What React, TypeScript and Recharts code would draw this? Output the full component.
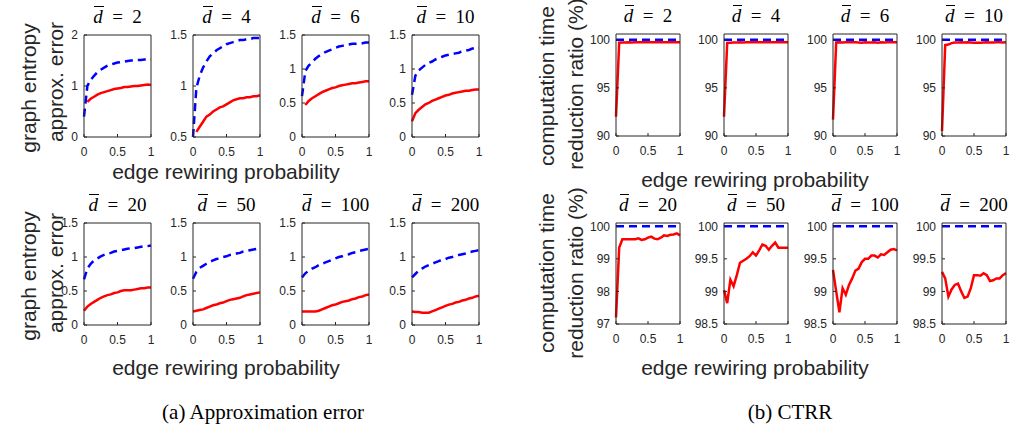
import React from "react";
import { LineChart, Line, XAxis, YAxis } from "recharts";

// edge rewiring probability (x values shared by every panel)
const rewiring = [0, 0.05, 0.1, 0.15, 0.2, 0.25, 0.3, 0.35, 0.4, 0.45, 0.5, 0.55, 0.6, 0.65, 0.7, 0.75, 0.8, 0.85, 0.9, 0.95, 1];
const xTicks = [0, 0.5, 1];

const degrees = [2, 4, 6, 10, 20, 50, 100, 200];

// (a) graph entropy approx. error — blue dashed / red solid
const errBlue2 = [0.4, 1.0, 1.12, 1.2, 1.27, 1.32, 1.36, 1.4, 1.42, 1.44, 1.46, 1.47, 1.48, 1.49, 1.5, 1.5, 1.51, 1.51, 1.52, 1.52, 1.52];
const errRed2 = [null, 0.69, 0.75, 0.79, 0.83, 0.86, 0.88, 0.9, 0.92, 0.94, 0.95, 0.96, 0.98, 0.98, 0.99, 1.0, 1.0, 1.01, 1.02, 1.03, 1.02];
const errBlue4 = [0.5, 0.98, 1.1, 1.18, 1.24, 1.29, 1.32, 1.35, 1.37, 1.39, 1.41, 1.42, 1.43, 1.44, 1.45, 1.45, 1.46, 1.46, 1.47, 1.47, 1.47];
const errRed4 = [null, 0.55, 0.6, 0.65, 0.7, 0.72, 0.75, 0.77, 0.79, 0.8, 0.82, 0.84, 0.86, 0.87, 0.88, 0.88, 0.89, 0.89, 0.9, 0.9, 0.91];
const errBlue6 = [0.6, 0.97, 1.05, 1.1, 1.15, 1.19, 1.22, 1.25, 1.27, 1.29, 1.31, 1.33, 1.34, 1.35, 1.36, 1.37, 1.37, 1.38, 1.38, 1.39, 1.39];
const errRed6 = [null, 0.47, 0.53, 0.57, 0.6, 0.63, 0.66, 0.68, 0.7, 0.72, 0.73, 0.75, 0.76, 0.77, 0.78, 0.79, 0.79, 0.8, 0.81, 0.82, 0.82];
const errBlue10 = [0.62, 0.9, 0.98, 1.02, 1.06, 1.09, 1.11, 1.14, 1.16, 1.18, 1.2, 1.21, 1.22, 1.23, 1.24, 1.26, 1.27, 1.28, 1.3, 1.3, 1.31];
const errRed10 = [0.23, 0.35, 0.4, 0.44, 0.48, 0.5, 0.53, 0.55, 0.57, 0.59, 0.61, 0.62, 0.64, 0.65, 0.66, 0.67, 0.68, 0.68, 0.69, 0.7, 0.7];
const errBlue20 = [0.67, 0.83, 0.9, 0.95, 0.98, 1.01, 1.03, 1.05, 1.06, 1.08, 1.09, 1.1, 1.11, 1.12, 1.13, 1.13, 1.14, 1.15, 1.15, 1.16, 1.17];
const errRed20 = [0.21, 0.27, 0.31, 0.34, 0.37, 0.4, 0.42, 0.44, 0.45, 0.47, 0.48, 0.5, 0.51, 0.51, 0.51, 0.52, 0.53, 0.54, 0.54, 0.55, 0.55];
const errBlue50 = [0.68, 0.78, 0.84, 0.87, 0.9, 0.93, 0.95, 0.97, 0.98, 1.0, 1.01, 1.03, 1.04, 1.05, 1.06, 1.08, 1.09, 1.1, 1.11, 1.12, 1.13];
const errRed50 = [0.2, 0.21, 0.22, 0.23, 0.25, 0.27, 0.29, 0.3, 0.32, 0.33, 0.35, 0.37, 0.38, 0.39, 0.4, 0.42, 0.44, 0.45, 0.46, 0.47, 0.48];
const errBlue100 = [0.7, 0.76, 0.8, 0.83, 0.85, 0.88, 0.9, 0.92, 0.94, 0.96, 0.98, 1.0, 1.01, 1.03, 1.04, 1.06, 1.07, 1.09, 1.1, 1.11, 1.12];
const errRed100 = [0.2, 0.2, 0.2, 0.2, 0.2, 0.21, 0.23, 0.25, 0.27, 0.29, 0.3, 0.32, 0.34, 0.35, 0.36, 0.38, 0.39, 0.41, 0.42, 0.44, 0.45];
const errBlue200 = [0.7, 0.75, 0.8, 0.83, 0.86, 0.88, 0.9, 0.92, 0.94, 0.96, 0.97, 0.99, 1.0, 1.02, 1.03, 1.04, 1.05, 1.07, 1.08, 1.09, 1.1];
const errRed200 = [0.2, 0.19, 0.19, 0.18, 0.18, 0.18, 0.2, 0.22, 0.24, 0.26, 0.28, 0.3, 0.31, 0.33, 0.34, 0.36, 0.37, 0.39, 0.4, 0.42, 0.43];

// (b) computation time reduction ratio (%)
const ctrrBlue = [100, 100, 100, 100, 100, 100, 100, 100, 100, 100, 100, 100, 100, 100, 100, 100, 100, 100, 100, 100, 100];
const ctrrRed2 = [92.0, 99.7, 99.72, 99.72, 99.73, 99.72, 99.74, 99.73, 99.75, 99.74, 99.75, 99.74, 99.73, 99.74, 99.75, 99.74, 99.75, 99.74, 99.75, 99.75, 99.74];
const ctrrRed4 = [92.0, 99.68, 99.7, 99.72, 99.72, 99.73, 99.72, 99.74, 99.73, 99.74, 99.75, 99.74, 99.74, 99.75, 99.74, 99.75, 99.74, 99.75, 99.76, 99.75, 99.75];
const ctrrRed6 = [91.7, 99.72, 99.73, 99.72, 99.74, 99.73, 99.74, 99.73, 99.72, 99.7, 99.73, 99.72, 99.72, 99.74, 99.7, 99.73, 99.72, 99.73, 99.74, 99.74, 99.74];
const ctrrRed10 = [90.5, 99.45, 99.5, 99.65, 99.72, 99.72, 99.74, 99.72, 99.73, 99.72, 99.7, 99.68, 99.7, 99.72, 99.73, 99.72, 99.72, 99.74, 99.73, 99.72, 99.74];
const ctrrRed20 = [97.2, 99.35, 99.6, 99.6, 99.6, 99.6, 99.6, 99.63, 99.58, 99.6, 99.65, 99.68, 99.62, 99.6, 99.65, 99.72, 99.7, 99.74, 99.75, 99.78, 99.72];
const ctrrRed50 = [99.02, 98.82, 99.18, 99.08, 99.25, 99.44, 99.47, 99.5, 99.54, 99.6, 99.55, 99.63, 99.72, 99.7, 99.64, 99.7, 99.75, 99.67, 99.67, 99.67, 99.67];
const ctrrRed100 = [99.33, 99.0, 98.68, 99.05, 98.95, 99.1, 99.2, 99.32, 99.35, 99.45, 99.5, 99.5, 99.55, 99.55, 99.52, 99.57, 99.56, 99.6, 99.64, 99.65, 99.63];
const ctrrRed200 = [99.3, 99.2, 98.92, 99.03, 99.1, 99.12, 99.0, 98.9, 98.92, 99.05, 99.25, 99.25, 99.24, 99.28, 99.25, 99.16, 99.17, 99.2, 99.2, 99.25, 99.28];

const INK = "#262626";
const SANS = "'Liberation Sans', Arial, sans-serif";
const SERIF = "'Liberation Serif', 'Times New Roman', serif";
const AXW = 40; // left axis width
const AXH = 24; // bottom axis height
const MT = 12; // room above the box for the top tick label
const MR = 8; // room right of the box for the last x tick label

type PanelProps = {
  left: number;
  top: number;
  w: number;
  h: number;
  degree: number;
  blue: (number | null)[];
  red: (number | null)[];
  domain: [number, number];
  yTicks: number[];
};

function Panel({ left, top, w, h, degree, blue, red, domain, yTicks }: PanelProps) {
  const data = rewiring.map((p, i) => ({ p, blue: blue[i], red: red[i] }));
  const tick = { fill: INK, fontSize: 12, fontFamily: SANS };
  return (
    <>
      <div
        style={{
          position: "absolute",
          left: left - 20,
          width: w + 40,
          top: top - 28,
          textAlign: "center",
          fontFamily: SERIF,
          fontSize: 19,
          lineHeight: "19px",
          whiteSpace: "nowrap",
          color: "#000",
        }}
      >
        <span style={{ position: "relative", fontStyle: "italic" }}>
          d
          <span style={{ position: "absolute", left: 1, right: -1, top: 0, borderTop: "1.3px solid #000" }} />
        </span>
        {"\u2002=\u2002"}
        {degree}
      </div>
      <div style={{ position: "absolute", left: left - AXW, top: top - MT - 1 }}>
        <LineChart
          width={AXW + w + 1 + MR}
          height={MT + 1 + h + AXH}
          data={data}
          margin={{ top: MT, right: MR, bottom: 0, left: 0 }}
        >
          <XAxis
            dataKey="p"
            type="number"
            domain={[0, 1]}
            ticks={xTicks}
            interval={0}
            tickSize={-3}
            tickMargin={13}
            height={AXH}
            stroke={INK}
            tick={tick}
          />
          <XAxis
            xAxisId="t"
            orientation="top"
            type="number"
            domain={[0, 1]}
            ticks={xTicks}
            interval={0}
            tickSize={-3}
            height={1}
            tick={false}
            stroke={INK}
          />
          <YAxis
            type="number"
            domain={domain}
            ticks={yTicks}
            interval={0}
            allowDataOverflow
            tickSize={-3}
            tickMargin={9}
            width={AXW}
            stroke={INK}
            tick={tick}
          />
          <YAxis
            yAxisId="r"
            orientation="right"
            type="number"
            domain={domain}
            ticks={yTicks}
            interval={0}
            allowDataOverflow
            tickSize={-3}
            width={1}
            tick={false}
            stroke={INK}
          />
          <Line type="linear" dataKey="red" stroke="#ff0000" strokeWidth={2.5} dot={false} isAnimationActive={false} />
          <Line
            type="linear"
            dataKey="blue"
            stroke="#0000ff"
            strokeWidth={2.5}
            strokeDasharray="8 5"
            dot={false}
            isAnimationActive={false}
          />
        </LineChart>
      </div>
    </>
  );
}

function Label({ x, y, text, rotate }: { x: number; y: number; text: string; rotate?: boolean }) {
  return (
    <div
      style={{
        position: "absolute",
        left: x,
        top: y,
        transform: `translate(-50%, -50%)${rotate ? " rotate(-90deg)" : ""}`,
        fontFamily: SANS,
        fontSize: 21,
        lineHeight: 1,
        whiteSpace: "nowrap",
        color: INK,
      }}
    >
      {text}
    </div>
  );
}

const leftCols = [84, 193, 302, 412];
const rightCols = [616, 724, 833, 942];

export default function App() {
  const errBlue = [errBlue2, errBlue4, errBlue6, errBlue10, errBlue20, errBlue50, errBlue100, errBlue200];
  const errRed = [errRed2, errRed4, errRed6, errRed10, errRed20, errRed50, errRed100, errRed200];
  const ctrrRed = [ctrrRed2, ctrrRed4, ctrrRed6, ctrrRed10, ctrrRed20, ctrrRed50, ctrrRed100, ctrrRed200];
  const errDomains: [number, number][] = [[0, 2], [0.5, 1.5], [0, 1.5], [0, 1.5], [0, 1.5], [0, 1.5], [0, 1.5], [0, 1.5]];
  const errTicks = [[0, 1, 2], [0.5, 1, 1.5], [0, 0.5, 1, 1.5], [0, 0.5, 1, 1.5], [0, 0.5, 1, 1.5], [0, 0.5, 1, 1.5], [0, 0.5, 1, 1.5], [0, 0.5, 1, 1.5]];
  const ctrrDomains: [number, number][] = [[90, 100.6], [90, 100.6], [90, 100.6], [90, 100.6], [97, 100.1], [98.5, 100.05], [98.5, 100.05], [98.5, 100.05]];
  const ctrrTicks = [[90, 95, 100], [90, 95, 100], [90, 95, 100], [90, 95, 100], [97, 98, 99, 100], [98.5, 99, 99.5, 100], [98.5, 99, 99.5, 100], [98.5, 99, 99.5, 100]];

  return (
    <div
      style={{
        position: "absolute",
        left: 0,
        top: 0,
        width: 1014,
        height: 432,
        overflow: "hidden",
        background: "#fff",
      }}
    >
      {degrees.map((d, i) => (
        <Panel
          key={`a${d}`}
          left={leftCols[i % 4]}
          top={i < 4 ? 35 : 223}
          w={67}
          h={102}
          degree={d}
          blue={errBlue[i]}
          red={errRed[i]}
          domain={errDomains[i]}
          yTicks={errTicks[i]}
        />
      ))}
      {degrees.map((d, i) => (
        <Panel
          key={`b${d}`}
          left={rightCols[i % 4]}
          top={i < 4 ? 34 : 223}
          w={64}
          h={i < 4 ? 102 : 101}
          degree={d}
          blue={ctrrBlue}
          red={ctrrRed[i]}
          domain={ctrrDomains[i]}
          yTicks={ctrrTicks[i]}
        />
      ))}

      <Label x={28} y={88} text="graph entropy" rotate />
      <Label x={55} y={82} text="approx. error" rotate />
      <Label x={28} y={276} text="graph entropy" rotate />
      <Label x={55} y={273} text="approx. error" rotate />
      <Label x={546} y={86} text="computation time" rotate />
      <Label x={575} y={84} text="reduction ratio (%)" rotate />
      <Label x={546} y={273} text="computation time" rotate />
      <Label x={575} y={273} text="reduction ratio (%)" rotate />

      <Label x={226} y={171} text="edge rewiring probability" />
      <Label x={226} y={367} text="edge rewiring probability" />
      <Label x={755} y={179} text="edge rewiring probability" />
      <Label x={755} y={367} text="edge rewiring probability" />

      <div style={{ position: "absolute", left: 143, width: 240, top: 402, textAlign: "center", fontFamily: SERIF, fontSize: 21, lineHeight: 1, whiteSpace: "nowrap" }}>
        (a) Approximation error
      </div>
      <div style={{ position: "absolute", left: 690, width: 200, top: 402, textAlign: "center", fontFamily: SERIF, fontSize: 21, lineHeight: 1, whiteSpace: "nowrap" }}>
        (b) CTRR
      </div>
    </div>
  );
}
